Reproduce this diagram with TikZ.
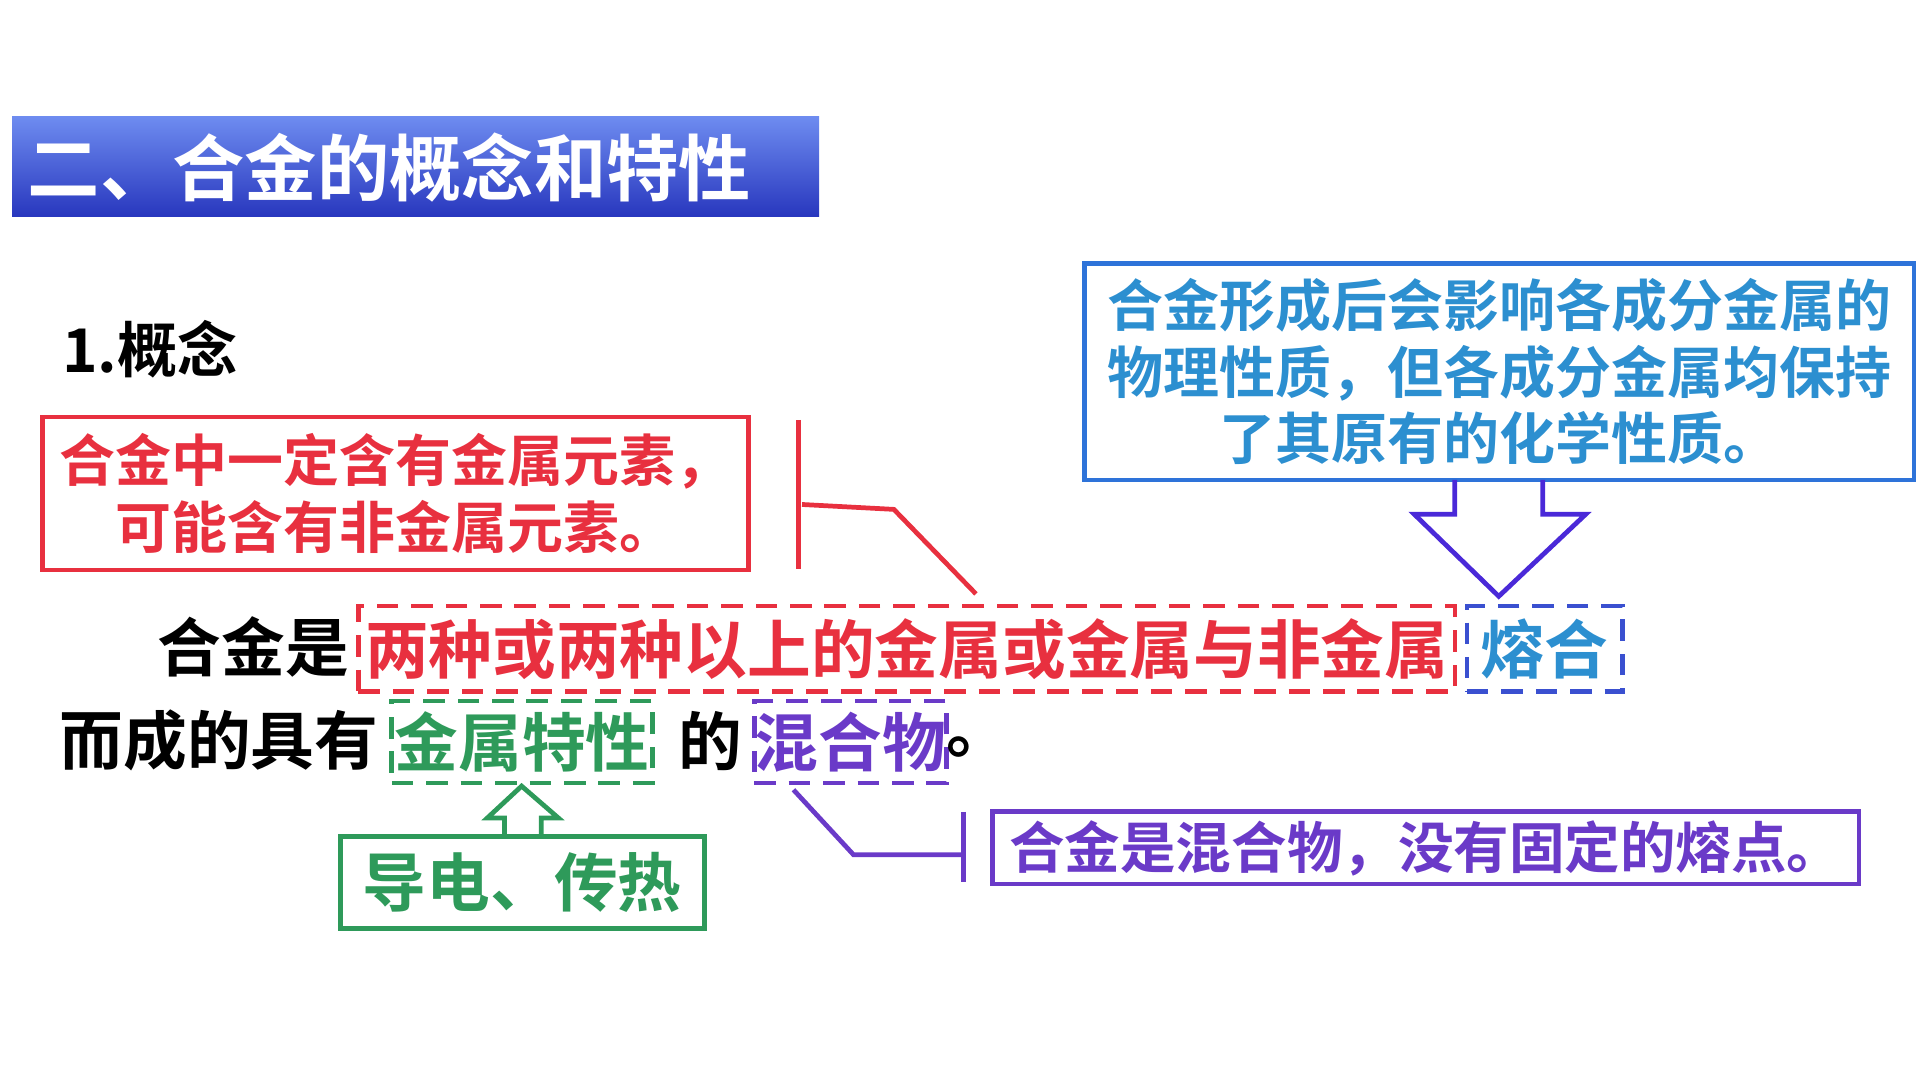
\documentclass[tikz,border=0pt]{standalone}
\usepackage{fontspec}
\newfontfamily\cjk{Noto Sans CJK SC Bold}
\definecolor{tred}{HTML}{E8303F}
\definecolor{tblue}{HTML}{3A50D0}
\definecolor{tteal}{HTML}{2C8FD0}
\definecolor{tgreen}{HTML}{2E9A5A}
\definecolor{tpurp}{HTML}{6A3AC8}
\begin{document}
\begin{tikzpicture}[x=0.01cm,y=-0.01cm,
  txt/.style={font=\cjk\fontsize{#1}{15.5}\selectfont,inner sep=0pt},
  dbox/.style={draw=#1,line width=1.1pt,dash pattern=on 5pt off 3pt,inner sep=0pt},
  sbox/.style={draw=#1,line width=1.1pt,inner sep=0pt,align=center}]
\useasboundingbox (0,0) rectangle (1568,882);
\fill[top color={rgb,255:red,110;green,140;blue,240},bottom color={rgb,255:red,40;green,55;blue,190}] (10,95) rectangle (669,177);
\node[txt=16.8,white,anchor=west] (title) at (22,137) {二、合金的概念和特性};
\node[txt=14,anchor=west] (gn) at (50,285) {1.概念};
% red box
\node[sbox=tred,minimum width=5.76cm,minimum height=1.25cm,txt=13,text=tred] (rb) at (323,403) {合金中一定含有金属元素，\\可能含有非金属元素。};
\coordinate (rv1) at (652,343); \coordinate (rv2) at (652,465);
\draw[tred,line width=1.1pt] (rv1) -- (rv2);
\coordinate (rl1) at (655,412); \coordinate (rl2) at (730,416); \coordinate (rl3) at (797,485);
\draw[tred,line width=1.1pt] (rl1) -- (rl2) -- (rl3);
% line 1
\node[txt=14.8,anchor=west] (l1) at (128,528) {合金是};
\node[dbox=tred,minimum width=8.95cm,minimum height=0.7cm,txt=14.8,text=tred] (d1) at (740.5,530) {两种或两种以上的金属或金属与非金属};
\node[dbox=tblue,minimum width=1.27cm,minimum height=0.7cm,txt=14.8,text=tteal] (d2) at (1261.5,530) {熔合};
% line 2
\node[txt=14.8,anchor=west] (l2) at (48,605) {而成的具有};
\node[dbox=tgreen,minimum width=2.13cm,minimum height=0.67cm,txt=14.8,text=tgreen] (d3) at (426.5,606) {金属特性};
\node[txt=14.8,anchor=west] (de) at (553,605) {的};
\node[dbox=tpurp,minimum width=1.57cm,minimum height=0.67cm,txt=14.8,text=tpurp] (d4) at (694.5,606) {混合物};
\node[txt=14.8,anchor=west] (dot) at (772,610) {。};
% blue box
\node[sbox=tblue!80!cyan,minimum width=6.77cm,minimum height=1.77cm,txt=13,text=tteal] (bb) at (1224.5,303.5) {合金形成后会影响各成分金属的\\物理性质，但各成分金属均保持\\了其原有的化学性质。};
\coordinate (a1) at (1188,392); \coordinate (a2) at (1188,420); \coordinate (a3) at (1155,420);
\coordinate (a4) at (1224,487); \coordinate (a5) at (1295,420); \coordinate (a6) at (1260,420); \coordinate (a7) at (1260,392);
\draw[tpurp!70!blue,line width=1.1pt,line join=miter] (a1) -- (a2) -- (a3) -- (a4) -- (a5) -- (a6) -- (a7);
% green
\node[sbox=tgreen,minimum width=2.97cm,minimum height=0.75cm,txt=14.8,text=tgreen] (gb) at (426.5,720.5) {导电、传热};
\coordinate (g1) at (412,683); \coordinate (g2) at (412,668); \coordinate (g3) at (398,668);
\coordinate (g4) at (426,642); \coordinate (g5) at (456,668); \coordinate (g6) at (442,668); \coordinate (g7) at (442,683);
\draw[tgreen,line width=1.1pt] (g1) -- (g2) -- (g3) -- (g4) -- (g5) -- (g6) -- (g7);
% purple
\node[sbox=tpurp,minimum width=7.07cm,minimum height=0.59cm,txt=12.9,text=tpurp] (pb) at (1164.5,692.5) {合金是混合物，没有固定的熔点。};
\coordinate (p1) at (648,645); \coordinate (p2) at (697,698); \coordinate (p3) at (787,698);
\draw[tpurp,line width=1.1pt] (p1) -- (p2) -- (p3);
\coordinate (pv1) at (787,663); \coordinate (pv2) at (787,720);
\draw[tpurp,line width=1.1pt] (pv1) -- (pv2);
\end{tikzpicture}
\end{document}
